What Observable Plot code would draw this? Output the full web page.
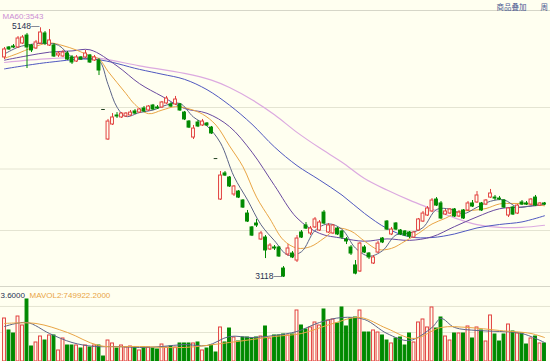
<!DOCTYPE html>
<html><head><meta charset="utf-8">
<script src="https://cdn.jsdelivr.net/npm/d3@7"></script>
<script src="https://cdn.jsdelivr.net/npm/@observablehq/plot@0.6"></script>
<style>
html,body{margin:0;padding:0;background:#fffff0;}
#wrap{position:relative;width:550px;height:361px;overflow:hidden;background:#fffff0;}
#main{position:absolute;left:0;top:0;}
#vol{position:absolute;left:0;top:286px;}
.hl{position:absolute;left:0;width:550px;height:0;border-top:1px solid #d6d6c8;}
</style></head><body>
<div id="wrap"><div class="hl" style="top:10px"></div><div class="hl" style="top:286px"></div><div id="main"></div><div id="vol"></div></div>
<script>
// ---- daily OHLC (price) ----
const open = [
4907,4988,4996,4988,5020,5085,5004,4980,5020,5102,
5004,5004,4923,4915,4939,4907,4874,4907,4907,4923,
4882,4882,4484,4240,4362,4435,4419,4427,4435,4468,
4459,4492,4476,4516,4500,4500,4533,4525,4525,4525,
4459,4386,4256,4378,4354,4370,4337,4085,3752,3964,
3931,3793,3817,3744,3638,3525,3557,3427,3443,3346,
3362,3362,3191,3305,3313,3256,3484,3541,3476,3525,
3500,3646,3484,3476,3516,3492,3427,3362,3216,3167,
3362,3313,3232,3321,3435,3573,3468,3557,3500,3492,
3484,3443,3500,3573,3622,3655,3752,3720,3630,3638,
3671,3614,3663,3663,3720,3728,3720,3711,3768,3768,
3760,3744,3622,3687,3638,3728,3720,3711,3768,3703,
3720];
const close = [
4972,4972,4988,5061,5069,4988,4964,5029,5110,5020,
5045,4915,4939,4947,4890,4866,4907,4890,4939,4866,
4907,4801,4484,4386,4419,4427,4451,4451,4459,4451,
4484,4468,4508,4484,4492,4541,4573,4508,4565,4476,
4403,4337,4329,4346,4386,4354,4289,4085,3947,3947,
3858,3858,3768,3687,3573,3459,3541,3476,3338,3378,
3354,3289,3126,3354,3281,3435,3443,3516,3516,3590,
3565,3557,3541,3541,3468,3443,3411,3313,3150,3394,
3321,3281,3281,3394,3403,3508,3508,3508,3468,3459,
3451,3484,3590,3638,3679,3744,3703,3598,3655,3671,
3614,3646,3598,3720,3695,3785,3663,3744,3801,3760,
3752,3687,3679,3630,3703,3711,3711,3752,3703,3720,
3711];
const high = [
4988,4996,5012,5077,5085,5102,5012,5045,5148,5118,
5134,5020,4955,4964,4955,4923,4923,4915,4964,4931,
4923,4898,4484,4403,4451,4459,4459,4459,4476,4484,
4492,4508,4516,4525,4516,4549,4590,4541,4590,4533,
4468,4394,4354,4394,4403,4378,4346,4085,3980,3980,
3939,3866,3825,3752,3663,3533,3590,3492,3459,3394,
3378,3370,3207,3386,3329,3459,3500,3565,3533,3606,
3581,3663,3557,3549,3525,3500,3443,3378,3256,3403,
3378,3321,3297,3411,3443,3581,3525,3565,3508,3500,
3492,3492,3598,3655,3695,3760,3768,3736,3671,3679,
3679,3663,3671,3736,3744,3817,3728,3752,3834,3785,
3777,3752,3687,3695,3711,3744,3736,3760,3785,3728,
3728];
const low = [
4890,4964,4980,4980,5012,4817,4947,4972,5012,5004,
4996,4907,4907,4907,4882,4850,4866,4882,4898,4858,
4874,4760,4484,4232,4354,4411,4411,4419,4427,4443,
4451,4459,4468,4476,4484,4492,4525,4500,4516,4468,
4394,4329,4240,4337,4346,4346,4281,4085,3744,3939,
3850,3777,3760,3679,3565,3451,3525,3419,3272,3338,
3338,3281,3118,3289,3272,3240,3435,3508,3459,3516,
3492,3549,3476,3468,3459,3427,3386,3297,3140,3159,
3313,3264,3224,3313,3394,3500,3459,3500,3459,3451,
3435,3435,3492,3565,3614,3646,3695,3590,3622,3630,
3606,3606,3590,3655,3687,3720,3655,3703,3760,3744,
3744,3679,3606,3622,3630,3703,3703,3703,3695,3695,
3703];
const vol = [
1344000,969000,875000,1406000,1125000,1938000,469000,594000,781000,656000,
813000,813000,344000,719000,500000,500000,500000,406000,500000,438000,
500000,500000,156000,656000,563000,406000,500000,438000,469000,438000,
344000,438000,438000,406000,375000,531000,438000,469000,438000,563000,
563000,563000,563000,594000,344000,406000,500000,281000,1063000,594000,
1031000,750000,625000,750000,750000,719000,750000,781000,1094000,719000,
813000,813000,844000,813000,844000,1594000,1125000,1000000,1063000,1219000,
1125000,1625000,1281000,1313000,1188000,1688000,1094000,1344000,1375000,1594000,
906000,906000,969000,906000,813000,656000,563000,719000,750000,500000,
875000,594000,1219000,1313000,1063000,1688000,1031000,1375000,781000,656000,
875000,875000,875000,1094000,719000,1063000,969000,625000,1438000,844000,
625000,844000,1156000,938000,875000,875000,531000,719000,781000,563000,
563000];

// ---- moving-average lines (day index, value) ----
const ma5Day = [0,3,6,9,12,15,18,21,23,25,27,30,33,36,39,42,45,48,51,54,57,60,63,66,69,72,75,78,81,84,87,90,93,96,99,102,105,108,111,114,117,120];
const ma5Val = [4935,4990,5014,5022,5006,4911,4898,4881,4689,4503,4427,4459,4479,4520,4533,4422,4350,4212,3939,3749,3547,3417,3300,3328,3500,3554,3510,3357,3292,3336,3464,3479,3524,3671,3674,3637,3689,3738,3749,3690,3701,3719];
const ma10Day = [0,3,6,10,13,16,19,21,23,25,27,29,32,35,38,41,44,47,50,53,56,59,62,65,68,71,74,77,80,83,86,89,92,95,98,101,104,107,110,113,116,120];
const ma10Val = [4900,4940,4985,5025,5003,4967,4920,4895,4794,4703,4613,4524,4450,4479,4507,4489,4446,4357,4188,4018,3772,3594,3422,3357,3369,3438,3517,3495,3414,3346,3355,3413,3477,3553,3600,3654,3664,3679,3716,3720,3718,3701];
const ma20Day = [0,5,10,15,19,25,30,35,40,45,50,55,60,65,70,75,80,85,90,95,100,105,110,115,120];
const ma20Val = [4885,4920,4950,4960,4969,4838,4694,4591,4492,4453,4345,4137,3866,3602,3477,3438,3413,3432,3420,3449,3532,3611,3677,3691,3709];
const ma40Day = [0,10,20,30,35,40,45,50,55,60,65,70,75,80,85,90,95,100,105,110,115,120];
const ma40Val = [4814,4868,4892,4810,4771,4729,4645,4519,4364,4179,4028,3911,3788,3639,3517,3449,3443,3472,3521,3549,3570,3620];
const ma60Day = [0,10,20,30,40,46,50,55,60,65,70,75,80,85,90,95,100,105,110,115,120];
const ma60Val = [4866,4897,4904,4839,4777,4723,4663,4563,4441,4298,4172,4055,3923,3829,3747,3675,3603,3548,3525,3526,3543];
const mavol1Day = [0,5,10,15,20,25,30,35,40,45,50,55,60,65,70,75,80,85,90,95,97,100,105,110,115,120];
const mavol1Val = [1094000,1219000,875000,594000,469000,469000,438000,469000,531000,500000,781000,750000,813000,938000,1219000,1375000,1313000,875000,656000,1063000,1344000,1063000,969000,938000,875000,594000];
const mavol2Day = [0,7,14,21,30,40,50,60,66,73,79,85,91,97,103,110,117,120];
const mavol2Val = [1188000,1188000,906000,500000,469000,438000,594000,781000,875000,1188000,1375000,1031000,719000,1063000,1063000,969000,875000,749922.2];
const gridPrices = [4500, 4000, 3500];
const volGrid = [1720000, 906000];
const mavol1Tail = "3.6000";

// ---- build ----
const RED = "#e2403e", GREEN = "#008a00", BG = "#fffff0";
const C5 = "#5c6488", C10 = "#e9a545", C20 = "#6a4aa0", C40 = "#5058c0", C60 = "#dcaae0";
const candles = open.map((o, i) => ({i, o, h: high[i], l: low[i], c: close[i], v: vol[i], up: close[i] > open[i]}));
const ups = candles.filter(d => d.up), downs = candles.filter(d => !d.up && d.o !== d.c), flats = candles.filter(d => d.o === d.c);
const pts = (xs, ys) => xs.map((x, k) => ({x, y: ys[k]}));
const xDom = [-4 / 4.5, 546 / 4.5];
const HW = 0.32;
const FONT = "Liberation Sans, Arial, sans-serif";
const hiI = d3.maxIndex(high), loI = d3.minIndex(low);
const maLine = (xs, ys, color, w = 1) => Plot.line(pts(xs, ys), {x: "x", y: "y", stroke: color, strokeWidth: w, curve: "catmull-rom"});

const main = Plot.plot({
  width: 550, height: 286, margin: 0,
  x: {domain: xDom, axis: null},
  y: {domain: [3045, 5370], axis: null},
  style: {background: "none", overflow: "visible"},
  marks: [
    Plot.ruleY(gridPrices, {stroke: "#e4e4d2", strokeWidth: 1}),
    maLine(ma60Day, ma60Val, C60, 1.2),
    maLine(ma40Day, ma40Val, C40),
    maLine(ma20Day, ma20Val, C20),
    maLine(ma10Day, ma10Val, C10),
    maLine(ma5Day, ma5Val, C5),
    Plot.ruleX(ups, {x: "i", y1: "l", y2: "h", stroke: RED}),
    Plot.ruleX(downs, {x: "i", y1: "l", y2: "h", stroke: GREEN}),
    Plot.rect(ups, {x1: d => d.i - HW, x2: d => d.i + HW, y1: "o", y2: "c", fill: BG, stroke: RED, strokeWidth: 1}),
    Plot.rect(downs, {x1: d => d.i - HW, x2: d => d.i + HW, y1: "o", y2: "c", fill: GREEN, stroke: GREEN, strokeWidth: 1}),
    Plot.ruleY(flats, {y: "c", x1: d => d.i - 0.4, x2: d => d.i + 0.4, stroke: "#204020", strokeWidth: 1}),
    Plot.text([hiI], {x: d => d, y: d => high[d], text: d => `${high[d]}—`, textAnchor: "end", lineAnchor: "middle", dx: -1, dy: -1.5, fontSize: 8.5, fill: "#283050", fontFamily: FONT}),
    Plot.text([loI], {x: d => d, y: d => low[d], text: d => `${low[d]}—`, textAnchor: "end", lineAnchor: "middle", dx: -1.5, dy: -1, fontSize: 8.5, fill: "#283050", fontFamily: FONT}),
    Plot.text([`MA60:${ma60Val[ma60Val.length - 1]}`], {frameAnchor: "top-left", dx: 2, dy: 18, lineAnchor: "bottom", fontSize: 8, fill: "#cc8ed4", fontFamily: FONT}),
    Plot.text(["商品叠加"], {frameAnchor: "top-left", dx: 496, dy: 9, lineAnchor: "bottom", fontSize: 7.5, fill: "#4a5890", fontFamily: "Noto Sans CJK SC"}),
    Plot.text(["周"], {frameAnchor: "top-left", dx: 540, dy: 9, lineAnchor: "bottom", fontSize: 7.5, fill: "#4a5890", fontFamily: "Noto Sans CJK SC"})
  ]
});
document.getElementById("main").appendChild(main);

const volPlot = Plot.plot({
  width: 550, height: 75, margin: 0,
  x: {domain: xDom, axis: null},
  y: {domain: [0, 2343750], axis: null},
  style: {background: "none", overflow: "visible"},
  marks: [
    Plot.ruleY(volGrid, {stroke: "#e4e4d2", strokeWidth: 1}),
    Plot.rect(ups, {x1: d => d.i - HW, x2: d => d.i + HW, y1: 0, y2: "v", fill: BG, stroke: RED, strokeWidth: 1}),
    Plot.rect(downs.concat(flats), {x1: d => d.i - HW, x2: d => d.i + HW, y1: 0, y2: "v", fill: GREEN, stroke: GREEN, strokeWidth: 1}),
    maLine(mavol1Day, mavol1Val, C5),
    maLine(mavol2Day, mavol2Val, C10),
    Plot.text([mavol1Tail], {frameAnchor: "top-left", dx: 0, dy: 11.5, lineAnchor: "bottom", fontSize: 8, fill: "#283050", fontFamily: FONT}),
    Plot.text([`MAVOL2:${mavol2Val[mavol2Val.length - 1].toFixed(4)}`], {frameAnchor: "top-left", dx: 29, dy: 11.5, lineAnchor: "bottom", fontSize: 8, fill: "#e9a545", fontFamily: FONT})
  ]
});
document.getElementById("vol").appendChild(volPlot);
</script>
</body></html>
